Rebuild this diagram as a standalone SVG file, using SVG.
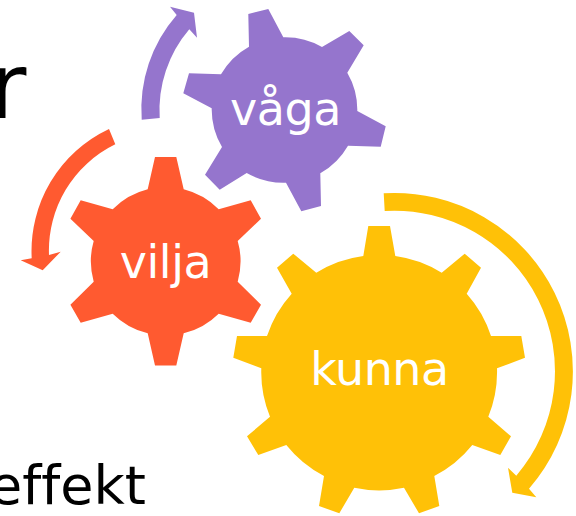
<svg xmlns="http://www.w3.org/2000/svg" width="576" height="516" viewBox="0 0 576 516">
<style>
.bg{font-family:"DejaVu Sans",sans-serif;fill:#000;font-variant-ligatures:none}
.lbl{font-family:"DejaVu Sans",sans-serif;font-size:46px;letter-spacing:-.5px;fill:#fff;text-anchor:middle}
.p{fill:#9575CD}.o{fill:#FF5A30}.y{fill:#FFC107}
</style>
<rect width="576" height="516" fill="#fff"/>
<text class="bg" x="-11" y="118" font-size="91">r</text>
<text class="bg" x="-11" y="504" font-size="54">effekt</text>
<g id="connectors">
<path class="p" d="M141.7 119.7A143 143 0 0 1 176.7 15L170 6.7L194 12.7L197 37.7L189.3 29.3A124.5 124.5 0 0 0 159.7 118Z"/>
<path class="o" d="M109 129A135 135 0 0 0 31.7 258.3L20.7 260.3L42.7 270.3L60.7 251.7L49 255A118 118 0 0 1 115.3 144.3Z"/>
<path class="y" d="M383.7 193.3A178.5 178.5 0 0 1 529 488.7L536.3 497.3L512.3 492.7L508 467.7L516.3 475.7A160.5 160.5 0 0 0 384.7 211Z"/>
</g>
<g id="vaga">
<path class="p" d="M249 46.7L248.3 14L268.3 9L283.3 37.3A74 74 0 0 1 322 47L349.3 31L363.7 45.3L347.3 72.7A74 74 0 0 1 357.3 111L385.7 126.3L380.7 146.7L348 145.7A74 74 0 0 1 320.3 173.3L321 206L301.3 211.3L286 182.7A74 74 0 0 1 246.7 173L219.7 189.7L205 174.7L222 147A74 74 0 0 1 211.7 108.3L183.3 93.3L189 73.3L221 74.3A74 74 0 0 1 249 46.7Z"/>
<text class="lbl" x="285.5" y="125">våga</text>
</g>
<g id="vilja">
<path class="o" d="M147.7 189.3L155 157L176.3 157L183.7 189.3A74.5 74.5 0 0 1 218.7 209.3L250.7 200.3L261 218.7L237.7 241A74.5 74.5 0 0 1 237.7 281.7L261 304.7L250.7 322.7L218.7 313.7A74.5 74.5 0 0 1 183.7 333.3L176.3 365.6L155 365.6L147.7 333.3A74.5 74.5 0 0 1 112.7 313.7L80.7 322.7L70.4 304.7L93.7 281.7A74.5 74.5 0 0 1 93.7 241L70.4 218.7L80.7 200.3L112.7 209.3A74.5 74.5 0 0 1 147.7 189.3Z"/>
<text class="lbl" x="165.5" y="278">vilja</text>
</g>
<g id="kunna">
<path class="y" d="M363.3 256L368.3 226L390 226L395.3 256A118 118 0 0 1 441.7 272.7L464.7 253.7L481 267.7L466.7 293.7A118 118 0 0 1 491 336L521.3 336L525 357.7L497 368.3A118 118 0 0 1 488.3 416.7L511 436.3L500.3 455L472.3 445A118 118 0 0 1 434.3 476L439.3 506L419 513.3L404 487.7A118 118 0 0 1 354.3 487.7L339.3 513.3L319 506L324 476A118 118 0 0 1 286.3 445L258.3 455L247 436.3L270 416.7A118 118 0 0 1 261.3 368.3L233.3 357.7L237 336L267 336A118 118 0 0 1 291.7 293.7L277 267.7L293.3 253.7L316.3 272.7A118 118 0 0 1 363.3 256Z"/>
<text class="lbl" x="379.5" y="385">kunna</text>
</g>
</svg>
